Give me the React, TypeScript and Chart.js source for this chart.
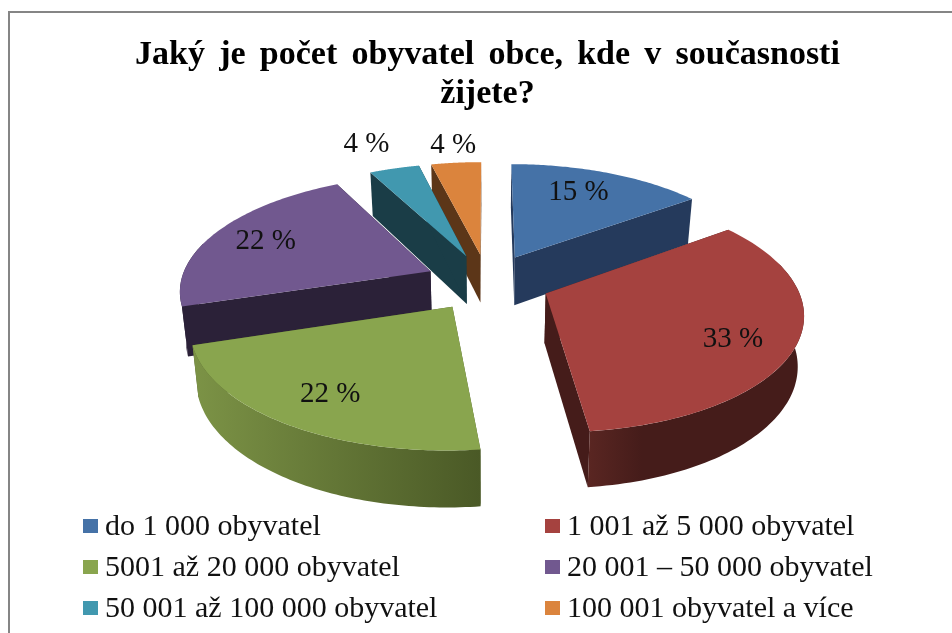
import React, { useEffect, useRef } from "react";
import { Chart, registerables } from "chart.js";

Chart.register(...registerables);

const titleLines = ["Jaký je počet obyvatel obce, kde v současnosti", "žijete?"];
const categories = [
  "do 1 000 obyvatel",
  "1 001 až 5 000 obyvatel",
  "5001 až 20 000 obyvatel",
  "20 001 – 50 000 obyvatel",
  "50 001 až 100 000 obyvatel",
  "100 001 obyvatel a více",
];
const shares = [14.9, 33.3, 21.9, 22.3, 3.8, 3.8];
const topColors = ["#4572A7", "#A5423F", "#89A54E", "#71588F", "#4198AF", "#DB843D"];
const radialWallColors = ["#253A5C", "#451C1A", "#4B5A27", "#2B2138", "#1A3D47", "#5C3618"];
const rimColorsLeft = ["#253A5C", "#5A2622", "#7C9346", "#2B2138", "#1A3D47", "#5C3618"];
const rimColorsRight = ["#253A5C", "#451C1A", "#4A5926", "#2B2138", "#1A3D47", "#5C3618"];
const labelRadius = [0.75, 0.77, 0.76, 0.77, 1.36, 1.25];
const labelTurnDeg = [-3.2, 3.4, 0.0, 0.5, -1.3, 0.5];

const FONT = '"Liberation Serif", "Times New Roman", serif';
const EXPLODE = 0.25;
const PERSPECTIVE = 0.15;
const X_STRETCH = 1.484;
const Y_STRETCH = 0.6766;
const DEPTH = 49;

type P = [number, number];

const pie3d = {
  id: "pie3d",
  beforeDraw(chart: any) {
    const ctx = chart.ctx;
    ctx.save();
    ctx.fillStyle = "#ffffff";
    ctx.fillRect(0, 0, chart.width, chart.height);
    ctx.fillStyle = "#858585";
    ctx.fillRect(8, 11, chart.width - 8, 2);
    ctx.fillRect(8, 11, 2, chart.height - 11);
    ctx.restore();
    ctx.wordSpacing = "5.7px";
  },
  beforeDatasetsDraw(chart: any) {
    chart.ctx.wordSpacing = "0px";
  },
  beforeDatasetDraw(chart: any) {
    const ctx = chart.ctx;
    const arcs = chart.getDatasetMeta(0).data;
    const first = arcs[0];
    const cx = first.x;
    const cy = first.y;
    const R = first.outerRadius;
    const rx = R * X_STRETCH;
    const ry = R * Y_STRETCH;

    const project = (u: number, v: number, bottom = false): P => {
      const s = 1 / (1 - PERSPECTIVE * v);
      const x = rx * u * s;
      const y = ry * v * s;
      return bottom
        ? [cx + x * 0.98, cy + y + DEPTH * Math.pow(s, 0.75)]
        : [cx + x, cy + y];
    };

    const pieces = arcs.map((a: any, i: number) => {
      const t0 = a.startAngle + Math.PI / 2;
      const t1 = a.endAngle + Math.PI / 2;
      const mid = (t0 + t1) / 2;
      const ou = EXPLODE * Math.sin(mid);
      const ov = -EXPLODE * Math.cos(mid);
      return { a, i, t0, t1, mid, ou, ov };
    });

    const order = [...pieces].sort((p: any, q: any) => p.ov - q.ov);

    const poly = (pts: P[], fill: any) => {
      ctx.beginPath();
      pts.forEach((p, k) => (k ? ctx.lineTo(p[0], p[1]) : ctx.moveTo(p[0], p[1])));
      ctx.closePath();
      ctx.fillStyle = fill;
      ctx.fill();
    };

    for (const p of order) {
      const rim = (t: number, bottom = false) =>
        project(p.ou + Math.sin(t), p.ov - Math.cos(t), bottom);
      const apexTop = project(p.ou, p.ov);
      const apexBot = project(p.ou, p.ov, true);
      const dark = radialWallColors[p.i];

      poly([apexTop, rim(p.t0), rim(p.t0, true), apexBot], dark);
      poly([apexTop, rim(p.t1), rim(p.t1, true), apexBot], dark);

      const lo = Math.max(p.t0, (75 * Math.PI) / 180);
      const hi = Math.min(p.t1, (285 * Math.PI) / 180);
      if (hi > lo) {
        const pts: P[] = [];
        const steps = 80;
        for (let k = 0; k <= steps; k++) pts.push(rim(lo + ((hi - lo) * k) / steps));
        for (let k = steps; k >= 0; k--) pts.push(rim(lo + ((hi - lo) * k) / steps, true));
        const xs = pts.map((q) => q[0]);
        const g = ctx.createLinearGradient(Math.min(...xs), 0, Math.max(...xs), 0);
        if (p.i === 1) {
          g.addColorStop(0, rimColorsLeft[p.i]);
          g.addColorStop(0.25, rimColorsRight[p.i]);
          g.addColorStop(1, rimColorsRight[p.i]);
        } else {
          g.addColorStop(0, rimColorsLeft[p.i]);
          g.addColorStop(1, rimColorsRight[p.i]);
        }
        poly(pts, g);
      }

      const top: P[] = [apexTop];
      const n = 80;
      for (let k = 0; k <= n; k++) top.push(rim(p.t0 + ((p.t1 - p.t0) * k) / n));
      poly(top, p.a.options.backgroundColor);
    }

    // value labels
    ctx.save();
    ctx.font = `29px ${FONT}`;
    ctx.fillStyle = "#111";
    ctx.textAlign = "center";
    ctx.textBaseline = "middle";
    const values = chart.data.datasets[0].data as number[];
    for (const p of pieces) {
      const t = p.mid + (labelTurnDeg[p.i] * Math.PI) / 180;
      const r = labelRadius[p.i];
      const [x, y] = project(p.ou + r * Math.sin(t), p.ov - r * Math.cos(t));
      ctx.fillText(`${Math.round(values[p.i])} %`, x, y + 2);
    }
    ctx.restore();

    // legend in two fixed columns
    ctx.save();
    ctx.font = `30px ${FONT}`;
    ctx.textBaseline = "middle";
    ctx.textAlign = "left";
    const columns = [83, 545];
    const rows = [526, 567, 608];
    (chart.data.labels as string[]).forEach((label, i) => {
      const x = columns[i % 2];
      const y = rows[Math.floor(i / 2)];
      ctx.fillStyle = topColors[i];
      ctx.fillRect(x, y - 7, 15, 14);
      ctx.fillStyle = "#111";
      ctx.fillText(label, x + 22, y + 1);
    });
    ctx.restore();
    return false;
  },
};

export default function App() {
  const ref = useRef<HTMLCanvasElement>(null);
  useEffect(() => {
    const chart = new Chart(ref.current as HTMLCanvasElement, {
      type: "pie",
      data: {
        labels: categories,
        datasets: [{ data: shares, backgroundColor: topColors, borderWidth: 0 }],
      },
      options: {
        responsive: false,
        animation: false,
        layout: { padding: { left: 23, top: 20, bottom: 182.5 } },
        plugins: {
          legend: { display: false },
          tooltip: { enabled: false },
          title: {
            display: true,
            text: titleLines,
            color: "#000",
            font: { family: FONT, size: 34, weight: "bold", lineHeight: 1.147 },
            padding: { top: 15.5, bottom: 0 },
          },
        },
      },
      plugins: [pie3d],
    } as any);
    return () => chart.destroy();
  }, []);
  return (
    <div style={{ position: "fixed", left: 0, top: 0 }}>
      <canvas ref={ref} width={952} height={633} style={{ display: "block", filter: "blur(0.4px)" }} />
    </div>
  );
}
